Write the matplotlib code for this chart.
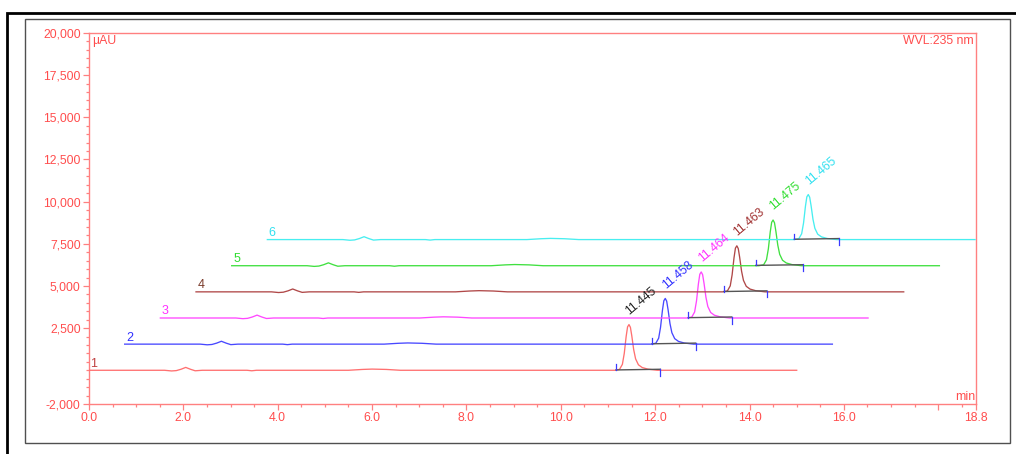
import matplotlib
matplotlib.use("Agg")
import matplotlib.pyplot as plt
from matplotlib.patches import Rectangle
import numpy as np

plt.rcParams["font.family"] = ["Liberation Sans", "DejaVu Sans"]

# ── Data ───────────────────────────────────────────────────────────────────────

trace_ids       = ["1", "2", "3", "4", "5", "6"]
trace_colors    = ["#ff7070", "#4848ff", "#ff48ff", "#b04848", "#40e040", "#48eef0"]
number_colors   = ["#c04040", "#3030ff", "#ff30ff", "#7a3a2a", "#30dd30", "#30e0f0"]
rt_colors       = ["#222222", "#3030ff", "#ff30ff", "#a03030", "#30dd30", "#30e0f0"]
retention_times = [11.445, 11.458, 11.464, 11.463, 11.475, 11.465]
peak_heights    = [2710, 2710, 2730, 2730, 2710, 2670]
integ_start     = [11.17, 11.18, 11.19, 11.19, 11.11, 11.17]
integ_end       = [12.11, 12.10, 12.11, 12.10, 12.11, 12.11]

# overlay offset between consecutive traces
x_step = 0.756   # min
y_step = 1550    # µAU

# baseline before the main peak (min, µAU)
pre_time   = [0.0, 1.6, 1.75, 1.85, 1.95, 2.05, 2.15, 2.25, 2.4,
              3.35, 3.45, 3.55, 5.5, 5.8, 6.0, 6.3, 6.6, 10.9]
pre_signal = [0, 0, -40, -20, 60, 170, 60, -30, 0,
              0, -30, 0, 0, 50, 70, 50, 0, 0]

# main peak around its apex (min offset, fraction of apex height)
peak_dt   = [-0.3, -0.2, -0.14, -0.1, -0.06, -0.03, 0.0, 0.03, 0.06,
             0.1, 0.14, 0.2, 0.28, 0.4, 0.6]
peak_frac = [0.0, 0.02, 0.13, 0.37, 0.74, 0.95, 1.0, 0.94, 0.75,
             0.45, 0.25, 0.12, 0.06, 0.025, 0.0]

# baseline after the peak
post_time   = [12.3, 15.0]
post_signal = [0, 0]

x_major  = [0.0, 2.0, 4.0, 6.0, 8.0, 10.0, 12.0, 14.0, 16.0, 18.0, 18.8]
x_labels = ["0.0", "2.0", "4.0", "6.0", "8.0", "10.0", "12.0", "14.0", "16.0", "", "18.8"]
y_major  = [-2000, 2500, 5000, 7500, 10000, 12500, 15000, 17500, 20000]
y_labels = ["-2,000", "2,500", "5,000", "7,500", "10,000", "12,500", "15,000", "17,500", "20,000"]

axis_red  = "#ff8080"
label_red = "#ff4d4d"

# ── Figure ─────────────────────────────────────────────────────────────────────

fig = plt.figure(figsize=(10.16, 4.54), dpi=100)
W, H = 1016, 454

# page frames
fig.patches.append(Rectangle((7 / W, -0.05), 1.1, 1 - 13 / H + 0.05,
                             transform=fig.transFigure, fill=False,
                             edgecolor="black", linewidth=2.0))
fig.patches.append(Rectangle((25 / W, 1 - 443 / H), (1010 - 25) / W, (443 - 19) / H,
                             transform=fig.transFigure, fill=False,
                             edgecolor="#505050", linewidth=1.0))

ax = fig.add_axes([89 / W, 1 - 404 / H, (976 - 89) / W, (404 - 33) / H])
ax.set_xlim(0, 18.8)
ax.set_ylim(-2000, 20000)

for i, tid in enumerate(trace_ids):
    x0 = i * x_step
    y0 = i * y_step
    rt = retention_times[i]
    h = peak_heights[i]

    t = np.concatenate([pre_time, rt + np.array(peak_dt), post_time])
    s = np.concatenate([pre_signal, h * np.array(peak_frac), post_signal])
    ax.plot(t + x0, s + y0, color=trace_colors[i], linewidth=0.95, zorder=3)

    # integration baseline and delimiters
    xs, xe = integ_start[i] + x0, integ_end[i] + x0
    ax.plot([xs, xe], [y0 + 20, y0 + 60], color="#555555", linewidth=1.0, zorder=4)
    ax.plot([xs, xs], [y0 + 20, y0 + 350], color="#3a3aff", linewidth=0.9, zorder=4)
    ax.plot([xe, xe], [y0 + 80, y0 - 330], color="#3a3aff", linewidth=0.9, zorder=4)

    # trace number
    ax.text(x0 + 0.03, y0 + 30, tid, color=number_colors[i], fontsize=9,
            ha="left", va="bottom", zorder=5)

    # retention time label
    ax.text(rt + x0 + 0.05, y0 + h + 450, f"{rt:.3f}", color=rt_colors[i],
            fontsize=8.8, rotation=40, rotation_mode="anchor",
            ha="left", va="bottom", zorder=5)

# axes styling
for side in ["left", "bottom", "top", "right"]:
    ax.spines[side].set_color(axis_red)
    ax.spines[side].set_linewidth(1.0)

ax.set_xticks(x_major)
ax.set_xticklabels(x_labels)
ax.set_xticks(np.arange(0.5, 18.8, 0.5), minor=True)
ax.set_yticks(y_major)
ax.set_yticklabels(y_labels)
ax.set_yticks(np.arange(-2000, 20001, 500), minor=True)

ax.tick_params(which="major", length=4.5, width=0.9, color=axis_red,
               labelcolor=label_red, labelsize=8.8, pad=1.5)
ax.tick_params(which="minor", length=2.2, width=0.9, color=axis_red)

ax.text(0.004, 0.995, "µAU", transform=ax.transAxes, color=label_red,
        fontsize=8.8, ha="left", va="top")
ax.text(0.998, 0.995, "WVL:235 nm", transform=ax.transAxes, color=label_red,
        fontsize=8.8, ha="right", va="top")
ax.text(0.999, 0.004, "min", transform=ax.transAxes, color=label_red,
        fontsize=8.8, ha="right", va="bottom")

plt.savefig("out.png", dpi=100)
plt.close()
